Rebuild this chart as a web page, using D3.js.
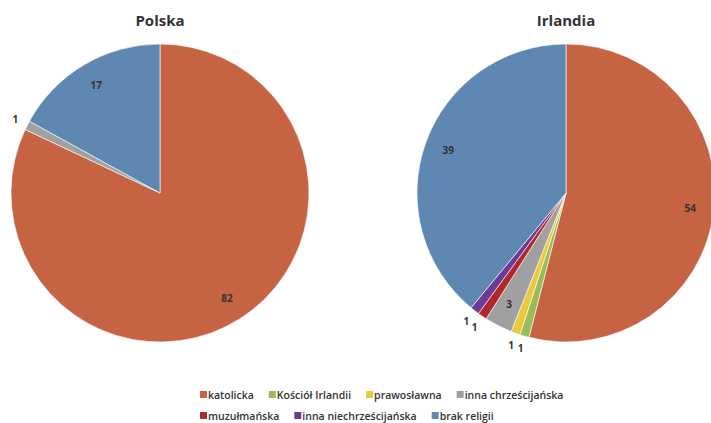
<!DOCTYPE html>
<html>
<head>
<meta charset="utf-8">
<script src="https://cdn.jsdelivr.net/npm/d3@7"></script>
<style>
  body { margin: 0; background: #fff; }
  text { font-family: "Open Sans", "Noto Sans", sans-serif; fill: #333; }
</style>
</head>
<body>
<svg id="chart" width="711" height="423"></svg>
<script>
// religion categories, same order in both pies
var categories = ["katolicka", "Kościół Irlandii", "prawosławna", "inna chrześcijańska",
                  "muzułmańska", "inna niechrześcijańska", "brak religii"];
var colors = ["#C56342", "#9BBB59", "#E8C93F", "#A0A0A0", "#B0282B", "#6C3B97", "#5E87B2"];

var polska   = [82, 0, 0, 1, 0, 0, 17];
var irlandia = [54, 1, 1, 3, 1, 1, 39];

var charts = [
  { title: "Polska",   values: polska,   cx: 160 },
  { title: "Irlandia", values: irlandia, cx: 566 }
];

var svg = d3.select("#chart");
var R = 149, cy = 193;

var pie = d3.pie().sort(null).value(function(d) { return d.v; });
var arc = d3.arc().innerRadius(0).outerRadius(R);
var inLabel = d3.arc().innerRadius(R * 0.84).outerRadius(R * 0.84);
var outLabel = d3.arc().innerRadius(R * 1.09).outerRadius(R * 1.09);

charts.forEach(function(c) {
  var data = c.values.map(function(v, i) { return { v: v, i: i }; });
  var g = svg.append("g").attr("transform", "translate(" + c.cx + "," + cy + ")");

  var arcs = pie(data).filter(function(d) { return d.data.v > 0; });

  g.selectAll("path").data(arcs).enter()
    .append("path")
    .attr("d", arc)
    .attr("fill", function(d) { return colors[d.data.i]; })
    .attr("stroke", "#fff")
    .attr("stroke-width", 0.6);

  g.selectAll("text.lbl").data(arcs).enter()
    .append("text")
    .attr("class", "lbl")
    .attr("transform", function(d) {
      var p = d.data.v > 1 ? inLabel.centroid(d) : outLabel.centroid(d);
      return "translate(" + p[0] + "," + p[1] + ")";
    })
    .attr("text-anchor", "middle")
    .attr("dy", "0.35em")
    .style("font-size", "10px")
    .style("font-weight", "bold")
    .text(function(d) { return d.data.v; });

  svg.append("text")
    .attr("x", c.cx)
    .attr("y", 26)
    .attr("text-anchor", "middle")
    .style("font-size", "15px")
    .style("font-weight", "bold")
    .text(c.title);
});

// legend: two rows, flowing left to right
var legendRows = [[0, 1, 2, 3], [4, 5, 6]];
var legend = svg.append("g");
legendRows.forEach(function(row, r) {
  var x = 200, y = 395 + r * 21;
  row.forEach(function(i) {
    legend.append("rect")
      .attr("x", x).attr("y", y - 4)
      .attr("width", 7).attr("height", 7)
      .attr("fill", colors[i]);
    var t = legend.append("text")
      .attr("x", x + 8).attr("y", y + 3.5)
      .style("font-size", "10.5px")
      .style("font-weight", "600")
      .text(categories[i]);
    x += 8 + t.node().getComputedTextLength() + 15;
  });
});
</script>
</body>
</html>
